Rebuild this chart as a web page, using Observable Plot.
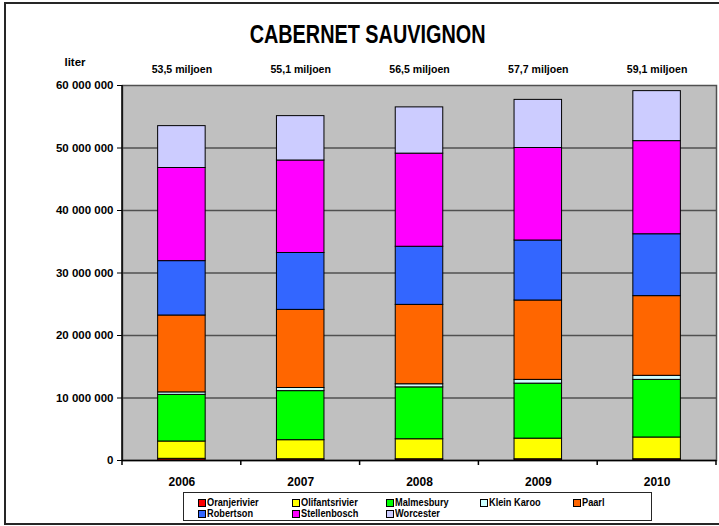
<!DOCTYPE html>
<html>
<head>
<meta charset="utf-8">
<script src="https://cdn.jsdelivr.net/npm/d3@7"></script>
<script src="https://cdn.jsdelivr.net/npm/@observablehq/plot@0.6"></script>
<style>
  body { margin: 0; background: #fff; }
  #wrap { position: relative; width: 719px; height: 526px; overflow: hidden;
          font-family: "Liberation Sans", Arial, sans-serif; font-weight: bold; color: #000; }
  #wrap svg { position: absolute; left: 0; top: 0; }
  #frame { position: absolute; left: 4px; top: 2px; width: 730px; height: 523px; box-sizing: border-box;
           border-left: 2px solid #262626; border-top: 2px solid #262626; border-bottom: 2px solid #262626; }
  #title { position: absolute; left: 8px; width: 719px; top: 21px; text-align: center;
           font-size: 26px; line-height: 26px; }
  #title span { display: inline-block; transform: scaleX(0.763); transform-origin: center; }
  #liter { position: absolute; left: 55px; width: 40px; top: 57px; text-align: center;
           font-size: 11.5px; line-height: 11.5px; }
  #legend { position: absolute; left: 183px; top: 492px; width: 469px; height: 29px;
            box-sizing: border-box; border: 1px solid #262626; background: #fff; }
  .item { position: absolute; height: 11px; font-size: 11.5px; line-height: 11px; white-space: nowrap; }
  .sw { position: absolute; left: 0; top: 2px; width: 6px; height: 6px; border: 1px solid #000; box-sizing: content-box; }
  .lab { position: absolute; left: 9px; top: 0; display: inline-block; transform: scaleX(0.8); transform-origin: left center; }
</style>
</head>
<body>
<div id="wrap">
  <div id="frame"></div>
  <div id="title"><span>CABERNET SAUVIGNON</span></div>
  <div id="liter">liter</div>
  <div id="legend"></div>
</div>
<script>
// ---- data (liters) ----
const years = ["2006", "2007", "2008", "2009", "2010"];
const regions = ["Oranjerivier", "Olifantsrivier", "Malmesbury", "Klein Karoo", "Paarl", "Robertson", "Stellenbosch", "Worcester"];
const colors = ["#FF0000", "#FFFF00", "#00FF00", "#CCFFFF", "#FF6600", "#3366FF", "#FF00FF", "#CCCCFF"];
const oranjerivier   = [270000, 200000, 200000, 200000, 200000];
const olifantsrivier = [2770000, 3050000, 3200000, 3300000, 3480000];
const malmesbury     = [7460000, 7850000, 8300000, 8800000, 9220000];
const kleinKaroo     = [400000, 500000, 500000, 600000, 650000];
const paarl          = [12300000, 12500000, 12700000, 12700000, 12750000];
const robertson      = [8700000, 9100000, 9300000, 9600000, 9900000];
const stellenbosch   = [14900000, 14800000, 14900000, 14800000, 14900000];
const worcester      = [6700000, 7100000, 7400000, 7700000, 8000000];
const totalLabels = ["53,5 miljoen", "55,1 miljoen", "56,5 miljoen", "57,7 miljoen", "59,1 miljoen"];
const yTicks = [0, 10000000, 20000000, 30000000, 40000000, 50000000, 60000000];

const series = [oranjerivier, olifantsrivier, malmesbury, kleinKaroo, paarl, robertson, stellenbosch, worcester];
const data = [];
years.forEach((yr, i) => {
  regions.forEach((r, j) => data.push({year: yr, region: r, value: series[j][i]}));
});
const totals = years.map((yr, i) => ({year: yr, label: totalLabels[i]}));

const font = '"Liberation Sans", Arial, sans-serif';
const chart = Plot.plot({
  width: 719, height: 526,
  marginTop: 85, marginRight: 3, marginBottom: 66, marginLeft: 122,
  style: {fontFamily: font, fontWeight: "bold", fontSize: "11.5px", background: "transparent", color: "#000", overflow: "visible"},
  x: {domain: years, paddingInner: 0.6, paddingOuter: 0.3, round: false, label: null, axis: null},
  y: {domain: [0, 60000000], label: null, axis: null},
  color: {domain: regions, range: colors},
  marks: [
    Plot.frame({fill: "#C0C0C0", stroke: "#505050", strokeWidth: 1.5}),
    Plot.ruleY(yTicks.slice(1, -1), {stroke: "#505050", strokeWidth: 1.5}),
    Plot.barY(data, {x: "year", y: "value", fill: "region", stroke: "#000", strokeWidth: 1}),
    Plot.ruleY([0], {stroke: "#000", strokeWidth: 1.5}),
    Plot.axisY({ticks: yTicks, tickFormat: d => d3.format(",")(d).replace(/,/g, " "),
                tickSize: 5, tickPadding: 4, fontSize: 11.5, label: null, stroke: "#000"}),
    Plot.axisX({tickSize: 0, tickPadding: 17, fontSize: 12, label: null}),
    Plot.text(totals, {x: "year", text: "label", frameAnchor: "top", lineAnchor: "middle", dy: -16,
                       fontSize: 11.5, fontWeight: "bold"})
  ]
});
const wrap = document.getElementById("wrap");
wrap.insertBefore(chart, document.getElementById("frame"));

// condense total labels a bit
d3.select(chart).selectAll('g[aria-label="text"] text').each(function() {
  const t = this.getAttribute("transform") || "";
  this.setAttribute("transform", t + " scale(0.92,1)");
});

// y axis line and x band-boundary ticks from the scales
const sx = chart.scale("x"), sy = chart.scale("y");
const xLeft = sx.range[0], xRight = sx.range[1];
const y0 = sy.apply(0), yTop = sy.apply(60000000);
const g = d3.select(chart).append("g");
g.append("line").attr("x1", xLeft).attr("x2", xLeft).attr("y1", yTop).attr("y2", y0)
  .attr("stroke", "#000").attr("stroke-width", 1.5);
const bounds = years.map(y => sx.apply(y) + sx.bandwidth / 2 - sx.step / 2);
bounds.push(sx.apply(years[years.length - 1]) + sx.bandwidth / 2 + sx.step / 2);
g.selectAll("line.xt").data(bounds).join("line").attr("class", "xt")
  .attr("x1", d => d).attr("x2", d => d).attr("y1", y0).attr("y2", y0 + 5)
  .attr("stroke", "#000").attr("stroke-width", 1.5);

// legend
const legend = document.getElementById("legend");
const colX = [14, 108, 202, 296, 389];
regions.forEach((r, i) => {
  const row = i < 5 ? 0 : 1;
  const col = i < 5 ? i : i - 5;
  const it = document.createElement("div");
  it.className = "item";
  it.style.left = colX[col] + "px";
  it.style.top = (row === 0 ? 4 : 15) + "px";
  const sw = document.createElement("div");
  sw.className = "sw";
  sw.style.background = colors[i];
  const lab = document.createElement("span");
  lab.className = "lab";
  lab.textContent = r;
  it.appendChild(sw); it.appendChild(lab);
  legend.appendChild(it);
});
</script>
</body>
</html>
